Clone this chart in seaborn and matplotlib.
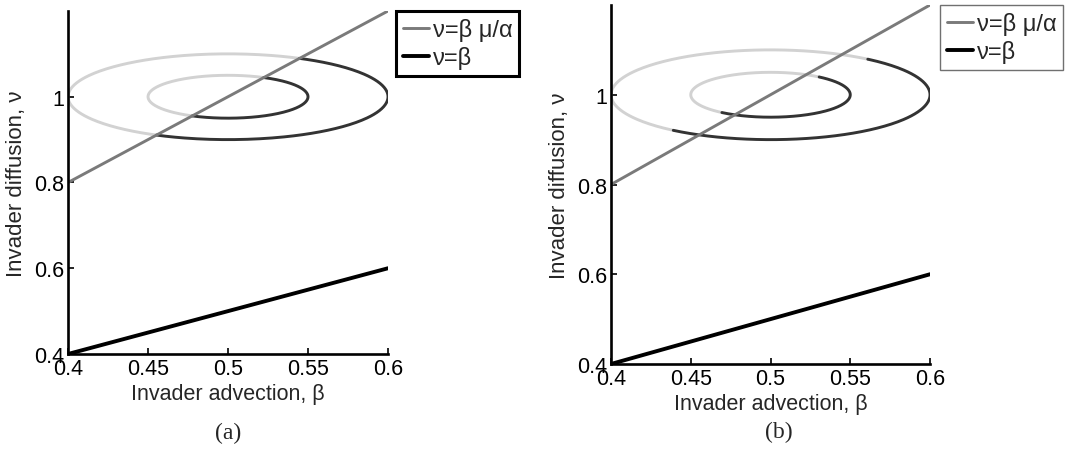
import numpy as np
import pandas as pd
import matplotlib
matplotlib.use("Agg")
import matplotlib.pyplot as plt
import seaborn as sns

# ---- data ----
beta_line = [0.4, 0.6]
nu_gray = [0.8, 1.2]        # nu = beta * mu/alpha  (mu/alpha = 2)
nu_black = [0.4, 0.6]       # nu = beta
ring_center = [0.5, 1.0]
ring_radii = [0.1, 0.05]
split_slopes = [2.0, 1.3]   # slope of boundary between light / dark arcs, panels a, b
panel_tags = ["(a)", "(b)"]
xticks = [0.4, 0.45, 0.5, 0.55, 0.6]
xticklabels = ["0.4", "0.45", "0.5", "0.55", "0.6"]
yticks = [0.4, 0.6, 0.8, 1.0]
yticklabels = ["0.4", "0.6", "0.8", "1"]
legend_labels = ["\u03bd=\u03b2 \u03bc/\u03b1", "\u03bd=\u03b2"]

sns.set_theme(style="white")
plt.rcParams["font.family"] = ["Liberation Sans", "DejaVu Sans"]

fig = plt.figure(figsize=(10.68, 4.52), dpi=100)
axes_rects = [[0.0637, 0.2146, 0.2996, 0.7589], [0.5721, 0.1925, 0.2987, 0.7942]]
legend_anchor = [(0.3708, 0.9735), (0.8801, 0.9867)]
legend_edge = [("black", 2.2), ("#707070", 1.0)]
tag_pos = [(0.2135, 0.042), (0.7294, 0.044)]
xlabel_y = [-0.085, -0.081]
ylabel_x = [-0.128, -0.128]

LIGHT = "#d2d2d2"
DARK = "#333333"
GRAY = "#7a7a7a"
FS = 15.5

for i in range(2):
    ax = fig.add_axes(axes_rects[i])
    # rings split into light (above boundary) / dark (below boundary)
    phi = np.arctan(split_slopes[i])
    for r in ring_radii:
        for (t0, t1, col) in [(phi, phi + np.pi, LIGHT), (phi - np.pi, phi, DARK)]:
            th = np.linspace(t0, t1, 200)
            df = pd.DataFrame({"b": ring_center[0] + r * np.cos(th),
                               "n": ring_center[1] + r * np.sin(th)})
            sns.lineplot(data=df, x="b", y="n", sort=False, estimator=None,
                         color=col, lw=2.1, ax=ax, legend=False)
    sns.lineplot(x=beta_line, y=nu_gray, color=GRAY, lw=2.1, ax=ax,
                 label=legend_labels[0])
    sns.lineplot(x=beta_line, y=nu_black, color="black", lw=2.8, ax=ax,
                 label=legend_labels[1])

    ax.set_xlim(0.4, 0.6)
    ax.set_ylim(0.4, 1.2)
    ax.set_xticks(xticks)
    ax.set_xticklabels(xticklabels)
    ax.set_yticks(yticks)
    ax.set_yticklabels(yticklabels)
    ax.tick_params(direction="in", length=4, width=1.2, labelsize=FS, pad=3,
                   colors="black", bottom=True, left=True)
    ax.tick_params(axis="x", pad=3)
    for s in ["top", "right"]:
        ax.spines[s].set_visible(False)
    for s in ["left", "bottom"]:
        ax.spines[s].set_color("black")
        ax.spines[s].set_linewidth(1.9)
    ax.set_xlabel("Invader advection, \u03b2", fontsize=FS, va="top")
    ax.xaxis.set_label_coords(0.5, xlabel_y[i])
    ax.set_ylabel("Invader diffusion, \u03bd", fontsize=16)
    ax.yaxis.set_label_coords(ylabel_x[i], 0.5)
    ax.set_facecolor("white")

    leg = ax.legend(loc="upper left", bbox_to_anchor=legend_anchor[i],
                    bbox_transform=fig.transFigure, fontsize=17, frameon=True,
                    fancybox=False, shadow=False, handlelength=1.1,
                    handletextpad=0.15, borderpad=0.3, labelspacing=0.2,
                    borderaxespad=0.0)
    fr = leg.get_frame()
    fr.set_edgecolor(legend_edge[i][0])
    fr.set_linewidth(legend_edge[i][1])
    fr.set_alpha(1)
    fig.text(tag_pos[i][0], tag_pos[i][1], panel_tags[i], fontsize=17,
             family=["Liberation Serif", "DejaVu Serif"], ha="center", va="center")

fig.savefig("out.png", dpi=100, facecolor="white")
